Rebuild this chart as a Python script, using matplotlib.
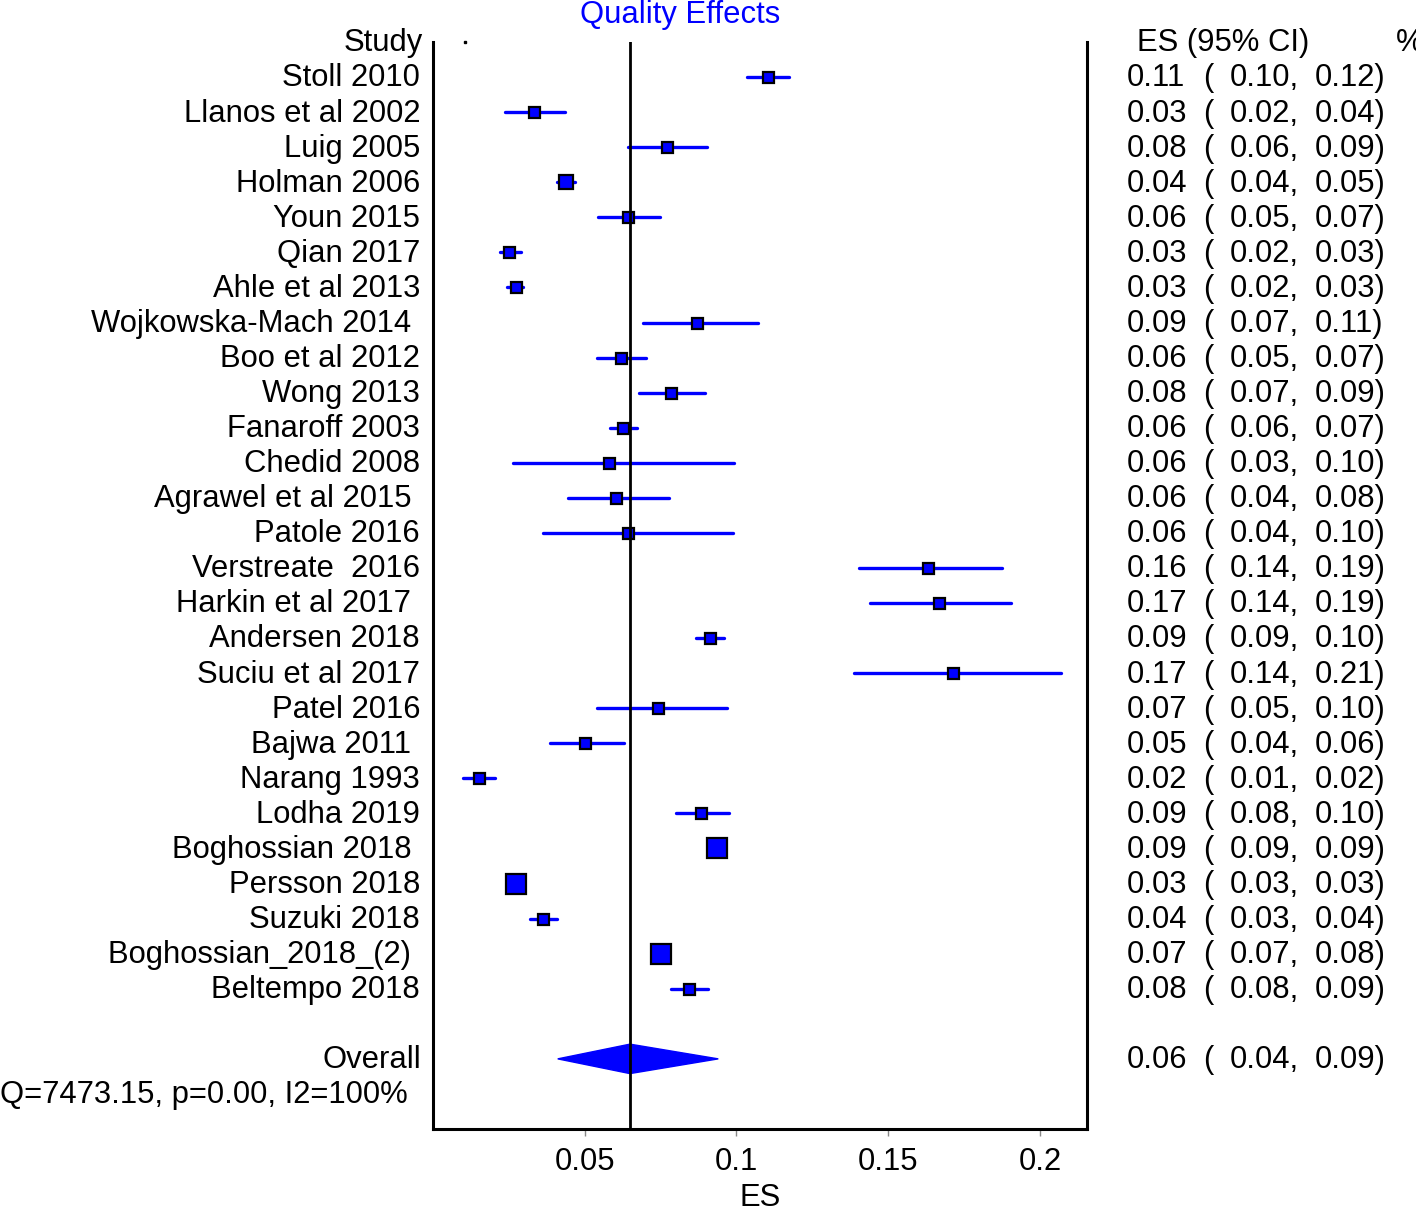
import matplotlib
matplotlib.use("Agg")
import matplotlib.pyplot as plt
import matplotlib.transforms as mtransforms
from matplotlib.patches import Polygon

plt.rcParams['font.family'] = ['Liberation Sans', 'DejaVu Sans']

studies = ["Stoll 2010", "Llanos et al 2002", "Luig 2005", "Holman 2006", "Youn 2015",
           "Qian 2017", "Ahle et al 2013", "Wojkowska-Mach 2014 ", "Boo et al 2012",
           "Wong 2013", "Fanaroff 2003", "Chedid 2008", "Agrawel et al 2015 ",
           "Patole 2016", "Verstreate  2016", "Harkin et al 2017 ", "Andersen 2018",
           "Suciu et al 2017", "Patel 2016", "Bajwa 2011 ", "Narang 1993",
           "Lodha 2019", "Boghossian 2018 ", "Persson 2018", "Suzuki 2018",
           "Boghossian_2018_(2) ", "Beltempo 2018"]
es = [0.1103, 0.0334, 0.0772, 0.0437, 0.0642, 0.0252, 0.0272, 0.0871, 0.0619,
      0.0785, 0.0626, 0.0580, 0.0603, 0.0642, 0.1632, 0.1666, 0.0914, 0.1715,
      0.0742, 0.0500, 0.0152, 0.0884, 0.0937, 0.0272, 0.0361, 0.0752, 0.0844]
lo = [0.1036, 0.0238, 0.0642, 0.0410, 0.0543, 0.0222, 0.0245, 0.0692, 0.0540,
      0.0679, 0.0583, 0.0265, 0.0444, 0.0361, 0.1404, 0.1440, 0.0868, 0.1387,
      0.0540, 0.0387, 0.0099, 0.0801, 0.0920, 0.0260, 0.0318, 0.0745, 0.0785]
hi = [0.1172, 0.0434, 0.0904, 0.0467, 0.0748, 0.0291, 0.0298, 0.1070, 0.0702,
      0.0897, 0.0672, 0.0993, 0.0778, 0.0990, 0.1874, 0.1904, 0.0960, 0.2070,
      0.0970, 0.0629, 0.0205, 0.0974, 0.0950, 0.0285, 0.0407, 0.0760, 0.0907]
es_txt = ["0.11", "0.03", "0.08", "0.04", "0.06", "0.03", "0.03", "0.09", "0.06",
          "0.08", "0.06", "0.06", "0.06", "0.06", "0.16", "0.17", "0.09", "0.17",
          "0.07", "0.05", "0.02", "0.09", "0.09", "0.03", "0.04", "0.07", "0.08"]
lo_txt = ["0.10", "0.02", "0.06", "0.04", "0.05", "0.02", "0.02", "0.07", "0.05",
          "0.07", "0.06", "0.03", "0.04", "0.04", "0.14", "0.14", "0.09", "0.14",
          "0.05", "0.04", "0.01", "0.08", "0.09", "0.03", "0.03", "0.07", "0.08"]
hi_txt = ["0.12", "0.04", "0.09", "0.05", "0.07", "0.03", "0.03", "0.11", "0.07",
          "0.09", "0.07", "0.10", "0.08", "0.10", "0.19", "0.19", "0.10", "0.21",
          "0.10", "0.06", "0.02", "0.10", "0.09", "0.03", "0.04", "0.08", "0.09"]
# marker box size (relative weight indicator)
box = [11, 11, 11, 14, 11, 11, 11, 11, 11, 11, 11, 11, 11, 11, 11, 11, 11, 11,
       11, 11, 11, 11, 20, 20, 11, 20, 11]

overall_es, overall_lo, overall_hi = 0.0649, 0.0411, 0.0940
overall_txt = ("0.06", "0.04", "0.09")
het_txt = "Q=7473.15, p=0.00, I2=100%"
xticks = [0.05, 0.1, 0.15, 0.2]
xticklabels = ["0.05", "0.1", "0.15", "0.2"]

W, H = 1416, 1211
fig = plt.figure(figsize=(W / 100, H / 100), dpi=100)
ax_l, ax_r, ax_t, ax_b = 433, 1087, 42, 1129
ax = fig.add_axes([ax_l / W, (H - ax_b) / H, (ax_r - ax_l) / W, (ax_b - ax_t) / H])
ax.set_xlim(0.0, 0.2155)
ax.set_ylim(31, 0)

FS = 22.3
blue = "#0000ff"

n = len(studies)
rows = list(range(1, n + 1))
for i in range(n):
    y = rows[i]
    ax.plot([lo[i], hi[i]], [y, y], color=blue, lw=2.4, solid_capstyle='round', zorder=3)
    ax.plot([es[i]], [y], marker='s', ms=box[i] * 0.72, mfc=blue, mec='black',
            mew=1.6, zorder=4)

# overall diamond
yo = 29
dh = 0.42
diamond = Polygon([[overall_lo, yo], [overall_es, yo - dh], [overall_hi, yo],
                   [overall_es, yo + dh]], closed=True, fc=blue, ec=blue, zorder=3)
ax.add_patch(diamond)

# overall line
ax.axvline(overall_es, color='black', lw=2.0, zorder=5)
# stray dot in header row
ax.plot([0.0105], [0], marker='s', ms=2, color='black', zorder=5, clip_on=False)

# spines
ax.spines['top'].set_visible(False)
for s in ['left', 'right', 'bottom']:
    ax.spines[s].set_linewidth(2.2)
ax.set_yticks([])
ax.set_xticks(xticks)
ax.set_xticklabels(xticklabels, fontsize=FS)
ax.tick_params(axis='x', direction='out', length=5, width=1, color='#888888', pad=8)
ax.set_xlabel("ES", fontsize=FS, labelpad=4)

trans = mtransforms.blended_transform_factory(fig.transFigure, ax.transData)

def px(x):
    return x / W

yoff = 0.04  # small downward nudge of text baselines

# left labels
ax.text(px(423), 0 + yoff, "Study", transform=trans, ha='right', va='center', fontsize=FS)
for i in range(n):
    ax.text(px(420), rows[i] + yoff, studies[i], transform=trans, ha='right', va='center',
            fontsize=FS)
ax.text(px(421), yo + yoff, "Overall", transform=trans, ha='right', va='center', fontsize=FS)
ax.text(px(408), 30 + yoff, het_txt, transform=trans, ha='right', va='center', fontsize=FS)

# right columns
ax.text(px(1137), 0 + yoff, "ES (95% CI)", transform=trans, ha='left', va='center', fontsize=FS)
ax.text(px(1396), 0 + yoff, "%", transform=trans, ha='left', va='center', fontsize=FS)

def right_row(y, a, b, c):
    y = y + yoff
    ax.text(px(1127), y, a, transform=trans, ha='left', va='center', fontsize=FS)
    ax.text(px(1203), y, "(", transform=trans, ha='left', va='center', fontsize=FS)
    ax.text(px(1230), y, b + ",", transform=trans, ha='left', va='center', fontsize=FS)
    ax.text(px(1315), y, c + ")", transform=trans, ha='left', va='center', fontsize=FS)

for i in range(n):
    right_row(rows[i], es_txt[i], lo_txt[i], hi_txt[i])
right_row(yo, *overall_txt)

# title
fig.text(px(680), 1 - 15 / H, "Quality Effects", color=blue, ha='center', va='center',
         fontsize=FS)

fig.savefig("out.png", dpi=100)
